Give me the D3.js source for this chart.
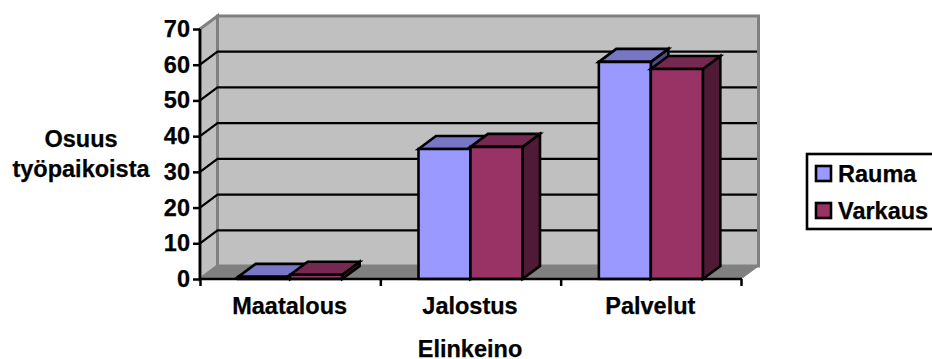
<!DOCTYPE html>
<html>
<head>
<meta charset="utf-8">
<script src="https://cdn.jsdelivr.net/npm/d3@7"></script>
<style>
html,body{margin:0;padding:0;background:#fff;overflow:hidden}
text{font-family:"Liberation Sans",Arial,sans-serif;font-weight:700;font-size:23.5px;fill:#000;stroke:#000;stroke-width:.25px}
</style>
</head>
<body>
<svg id="chart" width="932" height="359"></svg>
<script>
// Share of jobs by sector in two towns
const categories = ["Maatalous", "Jalostus", "Palvelut"];
const seriesNames = ["Rauma", "Varkaus"];
const rauma = [0.6, 36.4, 60.8];
const varkaus = [1.2, 37, 58.8];
const yTicks = [0, 10, 20, 30, 40, 50, 60, 70];
const frontColors = ["#9999ff", "#993366"];
const topColors = ["#7777c6", "#772850"];
const sideColors = ["#4d4d80", "#4f1a35"];

const svg = d3.select("#chart");
const dx = 17.5, dy = -13;
const y = d3.scaleLinear().domain([0, 70]).range([279, 29]);
const x = d3.scaleBand().domain(categories).range([200, 741]);
const bar = d3.scaleBand().domain(seriesNames).range([0, x.bandwidth()]).paddingInner(0).paddingOuter(0.734);

const [xl, xr] = x.range();
const [y0, y1] = y.range();
const poly = pts => pts.map(p => p.join(",")).join(" ");

// Back wall, side wall and floor of the 3D box
const box = svg.append("g");
box.append("polygon").attr("points", poly([[xl + dx, y1 + dy], [xr + dx, y1 + dy], [xr + dx, y0 + dy], [xl + dx, y0 + dy]]))
  .attr("fill", "#c0c0c0").attr("stroke", "#808080").attr("stroke-width", 3);
box.append("polygon").attr("points", poly([[xl, y1], [xl + dx, y1 + dy], [xl + dx, y0 + dy], [xl, y0]]))
  .attr("fill", "#c0c0c0").attr("stroke", "#808080").attr("stroke-width", 3);
box.append("polygon").attr("points", poly([[xl, y0], [xl + dx, y0 + dy], [xr + dx, y0 + dy], [xr, y0]]))
  .attr("fill", "#808080").attr("stroke", "#808080").attr("stroke-width", 1);

// Gridlines run along the side wall and across the back wall
const grid = svg.append("g").attr("fill", "none").attr("stroke", "#000").attr("stroke-width", 2.2);
yTicks.filter(t => t > 0 && t < 70).forEach(t => {
  grid.append("polyline").attr("points", poly([[xl, y(t)], [xl + dx, y(t) + dy], [xr + dx - 1.5, y(t) + dy]]));
});

// Columns, painted series by series so the taller neighbour overlaps correctly
[rauma, varkaus].forEach((values, s) => {
  const g = svg.append("g").attr("stroke", "#000").attr("stroke-width", 2.6).attr("stroke-linejoin", "miter");
  categories.forEach((c, i) => {
    const left = x(c) + bar(seriesNames[s]);
    const right = left + bar.bandwidth();
    const top = y(values[i]);
    g.append("polygon").attr("fill", sideColors[s])
      .attr("points", poly([[right, top], [right + dx, top + dy], [right + dx, y0 + dy], [right, y0]]));
    g.append("polygon").attr("fill", topColors[s])
      .attr("points", poly([[left, top], [left + dx, top + dy], [right + dx, top + dy], [right, top]]));
    g.append("polygon").attr("fill", frontColors[s])
      .attr("points", poly([[left, top], [right, top], [right, y0], [left, y0]]));
  });
});

// Front axes
const yAxis = d3.axisLeft(y).tickValues(yTicks).tickSize(7).tickPadding(3);
const xAxis = d3.axisBottom(d3.scaleLinear().domain([0, categories.length]).range([xl, xr]))
  .ticks(categories.length).tickFormat("").tickSize(7);
[svg.append("g").attr("transform", `translate(${xl},0)`).call(yAxis),
 svg.append("g").attr("transform", `translate(0,${y0})`).call(xAxis)].forEach(a => {
  a.selectAll("path").attr("d", null);
  a.selectAll("line").attr("stroke", "#000").attr("stroke-width", 2.5);
  a.attr("font-family", null).attr("font-size", null);
});
svg.append("line").attr("x1", xl).attr("x2", xl).attr("y1", y1).attr("y2", y0).attr("stroke", "#000").attr("stroke-width", 2.6);
svg.append("line").attr("x1", xl - 1).attr("x2", xr + 1).attr("y1", y0).attr("y2", y0).attr("stroke", "#000").attr("stroke-width", 2.6);

// Category labels and axis titles
categories.forEach(c => {
  svg.append("text").attr("x", x(c) + x.bandwidth() / 2 - 0.5).attr("y", 313.5).attr("text-anchor", "middle").text(c);
});
svg.append("text").attr("x", 470).attr("y", 357).attr("text-anchor", "middle").text("Elinkeino");
svg.append("text").attr("x", 81).attr("y", 146.5).attr("text-anchor", "middle").text("Osuus");
svg.append("text").attr("x", 81).attr("y", 177).attr("text-anchor", "middle").text("työpaikoista");

// Legend, whose box runs off the right edge
const legend = svg.append("g");
legend.append("rect").attr("x", 807).attr("y", 154).attr("width", 140).attr("height", 75)
  .attr("fill", "#fff").attr("stroke", "#000").attr("stroke-width", 2.6);
seriesNames.forEach((name, s) => {
  const rowY = 166 + s * 37;
  legend.append("rect").attr("x", 816).attr("y", rowY).attr("width", 15).attr("height", 15)
    .attr("fill", frontColors[s]).attr("stroke", "#000").attr("stroke-width", 2.6);
  legend.append("text").attr("x", 838).attr("y", rowY + 16).text(name);
});
</script>
</body>
</html>
